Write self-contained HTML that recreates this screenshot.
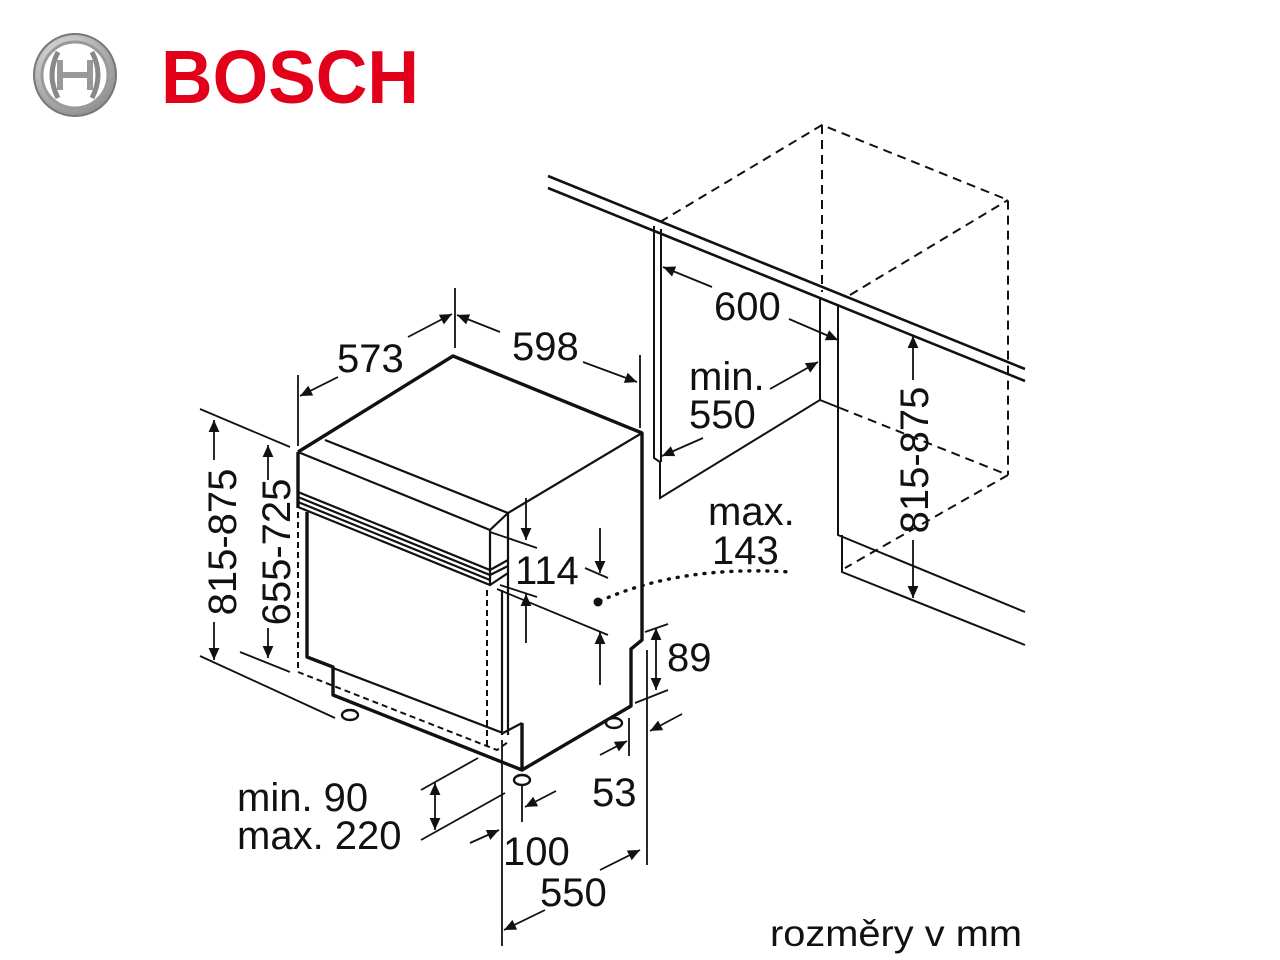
<!DOCTYPE html>
<html><head><meta charset="utf-8"><style>
html,body{margin:0;padding:0;background:#fff;}
svg{display:block;}
text{font-family:"Liberation Sans",sans-serif;fill:#111;}
</style></head><body>
<svg width="1280" height="960" viewBox="0 0 1280 960" xmlns="http://www.w3.org/2000/svg">
<defs>
<marker id="a" viewBox="0 0 10 10" refX="10" refY="5" markerWidth="19" markerHeight="12" markerUnits="userSpaceOnUse" orient="auto"><path d="M0,0.5 L10,5 L0,9.5 z" fill="#111"/></marker>
<radialGradient id="g" cx="40%" cy="35%" r="70%"><stop offset="0" stop-color="#f4f4f4"/><stop offset="1" stop-color="#8a8a8a"/></radialGradient>
</defs>
<circle cx="75" cy="75" r="41" fill="url(#g)" stroke="#777" stroke-width="2"/>
<circle cx="75" cy="75" r="33" fill="#fff" stroke="#999" stroke-width="3"/>
<path d="M58 52 Q46 75 58 98 M92 52 Q104 75 92 98" stroke="#888" stroke-width="5" fill="none"/>
<path d="M60 60 V90 M90 60 V90 M60 75 H90" stroke="#999" stroke-width="6" fill="none"/>
<text x="161" y="103" font-size="75" font-weight="bold" textLength="258" lengthAdjust="spacingAndGlyphs" style="fill:#e2001a">BOSCH</text>

<g stroke="#111" fill="none">
<line x1="548" y1="176" x2="1025" y2="369" stroke-width="2.6"/>
<line x1="548" y1="188" x2="1025" y2="381" stroke-width="2.6"/>
<g stroke-width="2">
<path d="M654 226 V458 L660 462 V498 L820 400 V297"/>
<line x1="661" y1="229" x2="661" y2="462"/>
<line x1="820" y1="400" x2="840" y2="408"/>
<path d="M838 305 V535 L1025 612"/>
<path d="M842 535 V572 L1025 645"/>
</g>
<g stroke-width="2" stroke-dasharray="9,6">
<path d="M660 222 L822 125 L1008 200 V475"/>
<line x1="822" y1="125" x2="822" y2="292"/>
<line x1="850" y1="295" x2="1008" y2="200"/>
<line x1="840" y1="408" x2="1008" y2="475"/>
<line x1="1008" y1="475" x2="845" y2="568"/>
</g>

<g stroke-width="3.4" stroke-linejoin="round">
<path d="M298 452 L453 356 L642 433 V640 L631 649 V706 L522 770 L333 695 V667 L307 657 V512"/>
<path d="M298 452 V508"/>
<line x1="522" y1="723" x2="522" y2="770"/>
</g>
<g stroke-width="2.2">
<path d="M325 440 L508 513 L642 433"/>
<path d="M298 452 L490 530 L508 513"/>
<path d="M490 530 V585"/>
<path d="M508 513 V735"/>
<path d="M502 590 V735"/>
<path d="M333 668 L503 733 L522 723"/>
<path d="M298 492 L490 570 L508 560 M298 497 L490 575 L508 566 M298 502 L490 580 M298 507 L490 585 L508 573"/>
</g>
<g stroke-width="2" stroke-dasharray="6,4">
<path d="M298 512 V672 L497 750 L508 742"/>
<line x1="487" y1="590" x2="487" y2="748"/>
</g>
<g fill="#fff" stroke-width="2.4">
<ellipse cx="350" cy="715" rx="8" ry="5"/><ellipse cx="522" cy="780" rx="8" ry="5"/><ellipse cx="614" cy="723" rx="8" ry="5"/>
</g>

<g stroke-width="1.8">
<line x1="298" y1="375" x2="298" y2="446"/>
<line x1="455" y1="288" x2="455" y2="348"/>
<line x1="338" y1="377" x2="300" y2="396" marker-end="url(#a)"/>
<line x1="408" y1="337" x2="452" y2="314" marker-end="url(#a)"/>
<line x1="640" y1="355" x2="640" y2="428"/>
<line x1="500" y1="332" x2="457" y2="315" marker-end="url(#a)"/>
<line x1="583" y1="362" x2="637" y2="382" marker-end="url(#a)"/>
<line x1="200" y1="409" x2="290" y2="447"/>
<line x1="200" y1="656" x2="335" y2="718"/>
<line x1="240" y1="652" x2="290" y2="672"/>
<line x1="214" y1="460" x2="214" y2="420" marker-end="url(#a)"/>
<line x1="214" y1="622" x2="214" y2="660" marker-end="url(#a)"/>
<line x1="268" y1="480" x2="268" y2="445" marker-end="url(#a)"/>
<line x1="268" y1="628" x2="268" y2="658" marker-end="url(#a)"/>
<line x1="490" y1="532" x2="537" y2="548"/>
<line x1="500" y1="585" x2="537" y2="597"/>
<line x1="497" y1="589" x2="608" y2="635"/>
<line x1="585" y1="568" x2="608" y2="578"/>
<line x1="526" y1="498" x2="526" y2="540" marker-end="url(#a)"/>
<line x1="526" y1="643" x2="526" y2="594" marker-end="url(#a)"/>
<line x1="600" y1="528" x2="600" y2="573" marker-end="url(#a)"/>
<line x1="600" y1="685" x2="600" y2="632" marker-end="url(#a)"/>
<line x1="645" y1="632" x2="668" y2="624"/>
<line x1="635" y1="703" x2="668" y2="690"/>
<line x1="656" y1="660" x2="656" y2="628" marker-end="url(#a)"/>
<line x1="656" y1="660" x2="656" y2="690" marker-end="url(#a)"/>
<line x1="629" y1="718" x2="629" y2="756"/>
<line x1="647" y1="650" x2="647" y2="865"/>
<line x1="682" y1="714" x2="650" y2="731" marker-end="url(#a)"/>
<line x1="600" y1="755" x2="627" y2="741" marker-end="url(#a)"/>
<line x1="522" y1="786" x2="522" y2="822"/>
<line x1="502" y1="740" x2="502" y2="946"/>
<line x1="556" y1="791" x2="525" y2="807" marker-end="url(#a)"/>
<line x1="470" y1="843" x2="499" y2="830" marker-end="url(#a)"/>
<line x1="545" y1="910" x2="504" y2="930" marker-end="url(#a)"/>
<line x1="600" y1="870" x2="640" y2="850" marker-end="url(#a)"/>
<line x1="421" y1="790" x2="478" y2="758"/>
<line x1="421" y1="840" x2="505" y2="793"/>
<line x1="435" y1="806" x2="435" y2="783" marker-end="url(#a)"/>
<line x1="435" y1="806" x2="435" y2="830" marker-end="url(#a)"/>
<line x1="712" y1="287" x2="663" y2="267" marker-end="url(#a)"/>
<line x1="789" y1="319" x2="838" y2="340" marker-end="url(#a)"/>
<line x1="770" y1="389" x2="818" y2="362" marker-end="url(#a)"/>
<line x1="703" y1="438" x2="662" y2="456" marker-end="url(#a)"/>
<line x1="913" y1="380" x2="913" y2="336" marker-end="url(#a)"/>
<line x1="913" y1="540" x2="913" y2="598" marker-end="url(#a)"/>
</g>
<path d="M600 601 Q680 565 790 572" stroke-width="3.4" stroke-dasharray="1,8" stroke-linecap="round"/>
</g>
<circle cx="598" cy="602" r="4.5" fill="#111"/>

<g font-size="40">
<text x="337" y="372">573</text>
<text x="512" y="360">598</text>
<text x="714" y="320">600</text>
<text x="689" y="390">min.</text>
<text x="689" y="428">550</text>
<text x="708" y="525">max.</text>
<text x="712" y="564">143</text>
<text x="515" y="584">114</text>
<text x="667" y="671">89</text>
<text x="592" y="806">53</text>
<text x="503" y="865">100</text>
<text x="540" y="906">550</text>
<text x="237" y="811">min. 90</text>
<text x="237" y="849">max. 220</text>
<text transform="translate(236,542) rotate(-90)" text-anchor="middle">815-875</text>
<text transform="translate(290,552) rotate(-90)" text-anchor="middle">655-725</text>
<text transform="translate(928,460) rotate(-90)" text-anchor="middle">815-875</text>
<text x="770" y="946" font-size="37" textLength="252" lengthAdjust="spacingAndGlyphs">rozměry v mm</text>
</g>
</svg>
</body></html>
